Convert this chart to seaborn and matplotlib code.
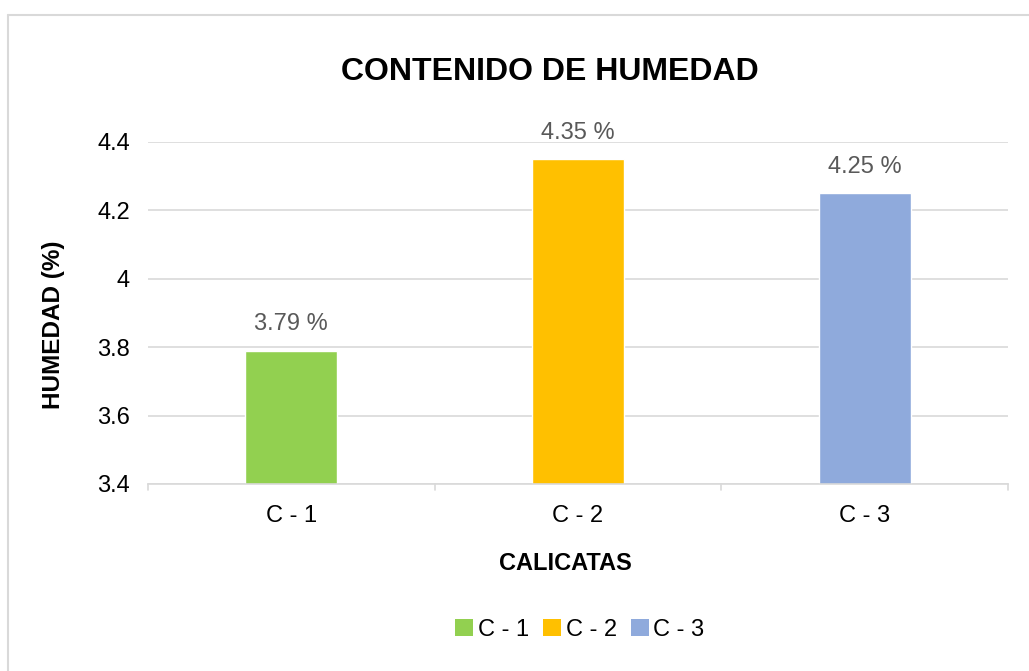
import matplotlib
matplotlib.use("Agg")
import matplotlib.pyplot as plt
import seaborn as sns
import pandas as pd
from matplotlib.patches import Patch
from matplotlib.lines import Line2D

calicatas = ["C - 1", "C - 2", "C - 3"]
humedad = [3.79, 4.35, 4.25]
colores = ["#92D050", "#FFC000", "#8FAADC"]
yticks = [3.4, 3.6, 3.8, 4.0, 4.2, 4.4]
ytick_labels = ["3.4", "3.6", "3.8", "4", "4.2", "4.4"]

df = pd.DataFrame({"calicata": calicatas, "humedad": humedad})

sns.set_theme(style="white")
plt.rcParams["font.family"] = ["Liberation Sans", "DejaVu Sans"]
plt.rcParams["text.color"] = "black"
plt.rcParams["axes.labelcolor"] = "black"

fig = plt.figure(figsize=(10.29, 6.71), dpi=100)
ax = fig.add_axes([0.1438, 0.2787, 0.8358, 0.5097])

sns.barplot(data=df, x="calicata", y="humedad", hue="calicata", palette=colores,
            width=0.32, legend=False, ax=ax, saturation=1)

ax.set_ylim(3.4, 4.4)
ax.set_xlim(-0.5, 2.5)
ax.set_yticks(yticks)
ax.set_yticklabels(ytick_labels, fontsize=17, color="black")
ax.tick_params(axis="y", length=0, pad=13)
ax.tick_params(axis="x", length=0, pad=15, labelsize=17, labelcolor="black")
ax.yaxis.grid(True, color="#D9D9D9", linewidth=1.2)
ax.set_axisbelow(True)
for s in ["top", "right", "left"]:
    ax.spines[s].set_visible(False)
ax.spines["bottom"].set_color("#D9D9D9")
ax.spines["bottom"].set_linewidth(1.2)

# category separator ticks on the x axis
for xb in [-0.5, 0.5, 1.5, 2.5]:
    ax.plot([xb, xb], [0, -0.018], transform=ax.get_xaxis_transform(),
            color="#D9D9D9", linewidth=1.2, clip_on=False)

for i, v in enumerate(humedad):
    ax.text(i, v + 0.045, f"{v:.2f} %", ha="center", va="bottom",
            fontsize=17, color="#595959")

ax.set_xlabel("CALICATAS", fontsize=17, fontweight="bold")
ax.xaxis.set_label_coords(0.485, -0.2)
ax.set_ylabel("HUMEDAD (%)", fontsize=17.5, fontweight="bold")
ax.yaxis.set_label_coords(-0.0965, 0.465)
fig.text(0.5345, 0.893, "CONTENIDO DE HUMEDAD", ha="center", va="center",
         fontsize=23, fontweight="bold")

handles = [Patch(facecolor=c, edgecolor="none") for c in colores]
fig.legend(handles, calicatas, loc="center", bbox_to_anchor=(0.5636, 0.061),
           ncol=3, frameon=False, fontsize=17, handlelength=0.75, handleheight=0.75,
           handletextpad=0.2, columnspacing=0.6)

# chart area border (partial, as in the reference)
fig.add_artist(Line2D([0.008, 0.008], [0.0, 0.978], transform=fig.transFigure,
                      color="#D9D9D9", linewidth=1.5))
fig.add_artist(Line2D([0.008, 1.0], [0.978, 0.978], transform=fig.transFigure,
                      color="#D9D9D9", linewidth=1.5))

fig.savefig("out.png", dpi=100)
